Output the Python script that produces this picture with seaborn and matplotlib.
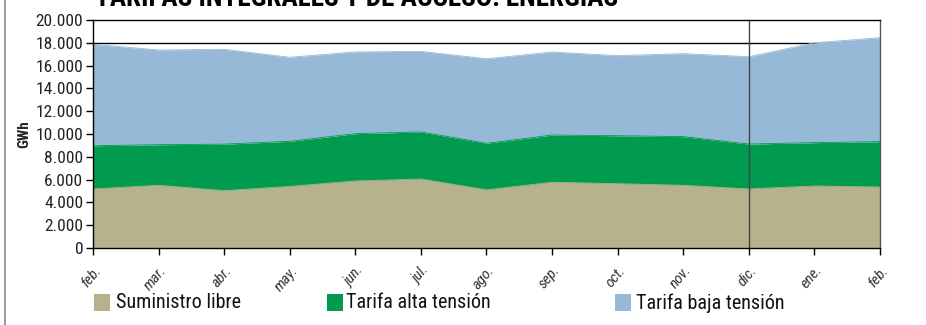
import matplotlib
matplotlib.use("Agg")
import matplotlib.pyplot as plt
import matplotlib.font_manager as fm
from matplotlib.lines import Line2D
from matplotlib.patches import Rectangle
import numpy as np
import pandas as pd
import seaborn as sns

# Monthly energy (GWh) by supply type
months = ["feb.", "mar.", "abr.", "may.", "jun.", "jul.", "ago.", "sep.",
          "oct.", "nov.", "dic.", "ene.", "feb."]
suministro_libre = [5180, 5500, 5030, 5400, 5880, 6050, 5100, 5770, 5640, 5500, 5180, 5440, 5350]
tarifa_alta = [3790, 3560, 4080, 3960, 4150, 4130, 4090, 4140, 4210, 4270, 3940, 3800, 3980]
tarifa_baja = [8900, 8310, 8320, 7370, 7170, 7070, 7410, 7280, 7020, 7280, 7660, 8760, 9120]

series_names = ["Suministro libre", "Tarifa alta tensión", "Tarifa baja tensión"]
colors = ["#B5B28C", "#009B4F", "#95B9D7"]
y_ticks = [0, 2000, 4000, 6000, 8000, 10000, 12000, 14000, 16000, 18000, 20000]
title = "TARIFAS INTEGRALES Y DE ACCESO: ENERGÍAS"

sns.set_theme(style="white")
available = {f.name for f in fm.fontManager.ttflist}
narrow = next((n for n in ["Liberation Sans Narrow", "Roboto Condensed", "Open Sans Condensed"]
               if n in available), "DejaVu Sans")
plt.rcParams["font.family"] = [narrow, "DejaVu Sans"]
plt.rcParams["font.stretch"] = "condensed"

df = pd.DataFrame({"x": np.arange(len(months)),
                   series_names[0]: suministro_libre,
                   series_names[1]: tarifa_alta,
                   series_names[2]: tarifa_baja})

fig = plt.figure(figsize=(9.26, 3.25), dpi=100)
ax = fig.add_axes([93 / 926, 1 - 248 / 325, (880 - 93) / 926, (248 - 20) / 325])

ax.stackplot(df["x"], df[series_names[0]], df[series_names[1]], df[series_names[2]],
             colors=colors, linewidth=0, zorder=1)
cum = df[series_names].cumsum(axis=1)
for name, c in zip(series_names, colors):
    sns.lineplot(x=df["x"], y=cum[name], color=c, linewidth=0.6, ax=ax, legend=False, zorder=1.1)

ax.set_xlim(0, len(months) - 1)
ax.set_ylim(0, 20000)
ax.axhline(18000, color="black", linewidth=1.0, zorder=0.5)
ax.axvline(10, color="#444444", linewidth=1.0, zorder=2)

ax.set_yticks(y_ticks)
ax.set_yticklabels([f"{v:,}".replace(",", ".") for v in y_ticks], fontsize=12.5, color="#222222")
ax.set_xticks(np.arange(len(months)))
ax.set_xticklabels(months, rotation=50, ha="right", rotation_mode="anchor",
                   fontsize=11, color="#333333", style="italic")
ax.tick_params(axis="both", which="both", direction="out", length=5, width=1,
               color="black", bottom=True, left=True, pad=2)
ax.tick_params(axis="x", pad=6)
ax.set_xlabel("")
ax.set_ylabel("GWh", fontsize=11, fontweight="bold")
ax.yaxis.set_label_coords((31 - 93) / 787, 0.5)
for side in ["left", "bottom", "top", "right"]:
    ax.spines[side].set_visible(True)
    ax.spines[side].set_color("black")
    ax.spines[side].set_linewidth(1.0)
ax.spines["right"].set_color("#555555")
ax.grid(False)

# Title sits partly above the canvas
fig.text(95 / 926, 1 - 6 / 325, title, fontsize=19.5, fontweight="bold",
         ha="left", va="baseline", color="black")

# Left frame border
fig.add_artist(Line2D([5 / 926, 5 / 926], [0, 1], transform=fig.transFigure,
                      color="#888888", linewidth=1.2))

# Legend with square markers
legend_items = [(94, 116), (327, 346), (615, 636)]
for (sx, tx), name, c in zip(legend_items, series_names, colors):
    fig.add_artist(Rectangle((sx / 926, 1 - 311 / 325), 16 / 926, 17 / 325,
                             transform=fig.transFigure, color=c, linewidth=0))
    fig.text(tx / 926, 1 - 303 / 325, name, fontsize=14.5, ha="left", va="center", color="#111111")

fig.savefig("out.png", dpi=100)
